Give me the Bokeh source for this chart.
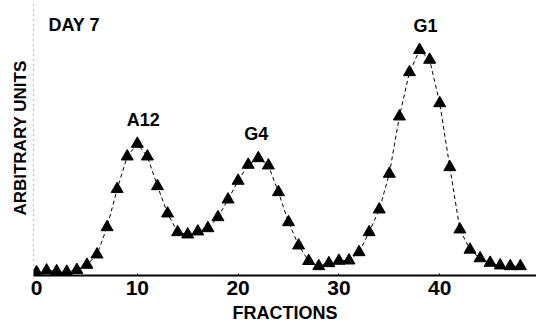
from bokeh.plotting import figure
from bokeh.models import Range1d, FixedTicker, ColumnDataSource
from bokeh.core.properties import value
from bokeh.embed import file_html
from bokeh.resources import INLINE

# Data (arbitrary units)
fractions = list(range(49))
units = [3.3, 5.0, 4.3, 3.7, 5.5, 10.7, 21.0, 48.3, 86.5, 119.0,
         131.7, 119.0, 89.3, 62.0, 43.3, 41.0, 44.0, 47.3, 58.3, 76.0,
         94.7, 110.7, 117.3, 110.0, 83.3, 53.3, 30.0, 14.5, 9.3, 12.3,
         14.7, 15.0, 23.3, 43.3, 66.0, 101.7, 159.0, 203.3, 225.5, 215.7,
         172.3, 108.3, 46.0, 25.8, 17.2, 12.7, 10.0, 9.3, 9.3]
peak_names = ["A12", "G4", "G1"]
peak_fractions = [10, 22, 38]
x_ticks = [0, 10, 20, 30, 40]

FONT = "Liberation Sans"

p = figure(width=536, height=333, output_backend="svg", toolbar_location=None,
           x_range=Range1d(-0.3, 49.6), y_range=Range1d(0, 275),
           min_border_left=33, min_border_right=0, min_border_top=0,
           min_border_bottom=58)
p.outline_line_color = None
p.grid.visible = False
p.background_fill_color = "white"
p.border_fill_color = "white"

src = ColumnDataSource(dict(x=fractions, y=units))
p.line("x", "y", source=src, line_color="black", line_width=1, line_dash="4 3")
p.scatter("x", "y", source=src, marker="triangle", size=12,
          fill_color="black", line_color="black")

# peak labels anchored to peaks
pk_y = [units[f] for f in peak_fractions]
offs = [6, -2, 6]
for name, f, yv, dx in zip(peak_names, peak_fractions, pk_y, offs):
    p.text(x=[f], y=[yv], text=[name], x_offset=dx, y_offset=-24,
           text_font=value(FONT), text_font_style="bold", text_font_size="18px",
           text_align="center", text_baseline="middle", text_color="black")

# DAY 7 at top-left of frame
p.text(x=[p.x_range.start], y=[p.y_range.end], text=["DAY 7"], x_offset=15, y_offset=24,
       text_font=value(FONT), text_font_style="bold", text_font_size="18px",
       text_align="left", text_baseline="middle", text_color="black")

xa = p.xaxis[0]
xa.ticker = FixedTicker(ticks=x_ticks)
xa.axis_line_width = 2
xa.axis_line_color = "black"
xa.major_tick_in = 2
xa.major_tick_out = 0
xa.minor_tick_in = 0
xa.minor_tick_out = 0
xa.major_label_standoff = 5
xa.major_label_text_font = FONT
xa.major_label_text_font_style = "bold"
xa.major_label_text_font_size = "21px"
xa.major_label_text_color = "black"
xa.axis_label = "FRACTIONS"
xa.axis_label_standoff = 5
xa.axis_label_text_font = FONT
xa.axis_label_text_font_style = "bold"
xa.axis_label_text_font_size = "18px"
xa.axis_label_text_color = "black"

ya = p.yaxis[0]
ya.ticker = FixedTicker(ticks=[])
ya.axis_line_color = "#777777"
ya.axis_line_dash = "1 4"
ya.axis_line_width = 1
ya.major_tick_out = 0
ya.major_tick_in = 0
ya.minor_tick_in = 0
ya.minor_tick_out = 0
ya.major_label_standoff = 0
ya.axis_label = "ARBITRARY UNITS"
ya.axis_label_standoff = 4
ya.axis_label_text_font = FONT
ya.axis_label_text_font_style = "bold"
ya.axis_label_text_font_size = "17px"
ya.axis_label_text_color = "black"

open("out.html", "w").write(file_html(p, INLINE))
